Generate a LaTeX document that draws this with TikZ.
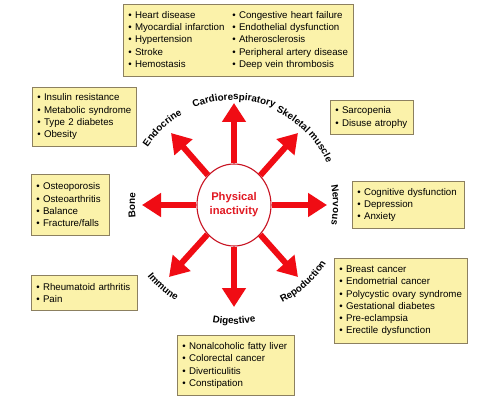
\documentclass[tikz,border=0pt]{standalone}
\usepackage{fontspec}
\setmainfont{Liberation Sans}
\usetikzlibrary{arrows.meta,shapes.geometric,decorations.text}
\definecolor{boxfill}{RGB}{251,242,170}
\definecolor{boxline}{RGB}{140,128,96}
\definecolor{arrred}{RGB}{240,12,20}
\definecolor{circline}{RGB}{200,20,35}
\definecolor{pitext}{RGB}{225,25,35}
\newcommand\lblfont{\fontsize{9.8}{12}\selectfont\bfseries}
\newcommand\boxfont{\fontsize{9.7}{12.3}\selectfont}
\newcommand\itm{\textbullet\ }
\tikzset{
  box/.style={draw=boxline, fill=boxfill, line width=0.8pt, anchor=north west,
    inner xsep=5pt, inner ysep=3pt, align=left, font=\boxfont},
  bigarrow/.style={draw=arrred, line width=6pt,
    -{Triangle[length=19pt,width=23pt]}, fill=arrred},
  hub/.style={ellipse, draw=circline, line width=1.1pt, fill=white,
    minimum width=74pt, minimum height=82pt, inner sep=0pt, align=center,
    text=pitext, font=\fontsize{11.2}{14}\selectfont\bfseries},
  cwlabel/.style={decorate, decoration={text along path, text={|\lblfont|#1}, text align=center}}
}
\begin{document}
\begin{tikzpicture}[x=1pt,y=1pt]
\useasboundingbox (-234,-196) rectangle (268,205);
\fill[white] (-234,-196) rectangle (268,205);

% hub
\node[hub] (pi) at (0,0) {Physical\\inactivity};

% arrow tips
\coordinate (tU) at (0,102);
\coordinate (tD) at (0,-102);
\coordinate (tL) at (-92,0);
\coordinate (tR) at (93,0);
\coordinate (tUL) at (-63,72);
\coordinate (tUR) at (64,72);
\coordinate (tLL) at (-65,-72);
\coordinate (tLR) at (64,-72);
\foreach \t in {tU,tD,tL,tR,tUL,tUR,tLL,tLR}
  \draw[bigarrow] (pi) -- (\t);

% curved labels
\path[cwlabel=Cardiorespiratory] (135:105) arc[start angle=135, end angle=45, radius=105];
\path[cwlabel=Skeletal muscle] (90:102) arc[start angle=90, end angle=0, radius=102];
\path[cwlabel=Nervous] (45:99) arc[start angle=45, end angle=-45, radius=99];
\path[cwlabel=Repoduction] (-93:109) arc[start angle=-93, end angle=-3, radius=109];
\path[cwlabel=Digestive] (-135:119) arc[start angle=-135, end angle=-45, radius=119];
\path[cwlabel=Immune] (-176:112) arc[start angle=-176, end angle=-86, radius=112];
\path[cwlabel=Bone] (225:99) arc[start angle=225, end angle=135, radius=99];
\path[cwlabel=Endocrine] (178:104) arc[start angle=178, end angle=88, radius=104];

% boxes
\node[box, text width=220pt, minimum height=72pt] (cardio) at (-111,201)
 {\begin{tabular}{@{}p{104pt}@{}l@{}}
  \itm Heart disease & \itm Congestive heart failure\\
  \itm Myocardial infarction & \itm Endothelial dysfunction\\
  \itm Hypertension & \itm Atherosclerosis\\
  \itm Stroke & \itm Peripheral artery disease\\
  \itm Hemostasis & \itm Deep vein thrombosis
 \end{tabular}};
\node[box, text width=94pt, minimum height=59pt] (endo) at (-202,118)
 {\itm Insulin resistance\\ \itm Metabolic syndrome\\ \itm Type 2 diabetes\\ \itm Obesity};
\node[box, text width=68pt, minimum height=61pt] (bone) at (-203,31)
 {\itm Osteoporosis\\ \itm Osteoarthritis\\ \itm Balance\\ \itm Fracture/falls};
\node[box, text width=96pt, minimum height=35pt] (immune) at (-203,-70)
 {\itm Rheumatoid arthritis\\ \itm Pain};
\node[box, text width=107pt, minimum height=60pt] (dig) at (-57,-130)
 {\itm Nonalcoholic fatty liver\\ \itm Colorectal cancer\\ \itm Diverticulitis\\ \itm Constipation};
\node[box, text width=123pt, minimum height=85pt] (repro) at (100,-53)
 {\itm Breast cancer\\ \itm Endometrial cancer\\ \itm Polycystic ovary syndrome\\ \itm Gestational diabetes\\ \itm Pre-eclampsia\\ \itm Erectile dysfunction};
\node[box, text width=102pt, minimum height=47pt] (nerv) at (118,24)
 {\itm Cognitive dysfunction\\ \itm Depression\\ \itm Anxiety};
\node[box, text width=73pt, minimum height=34pt] (skel) at (96,105)
 {\itm Sarcopenia\\ \itm Disuse atrophy};
\end{tikzpicture}
\end{document}
